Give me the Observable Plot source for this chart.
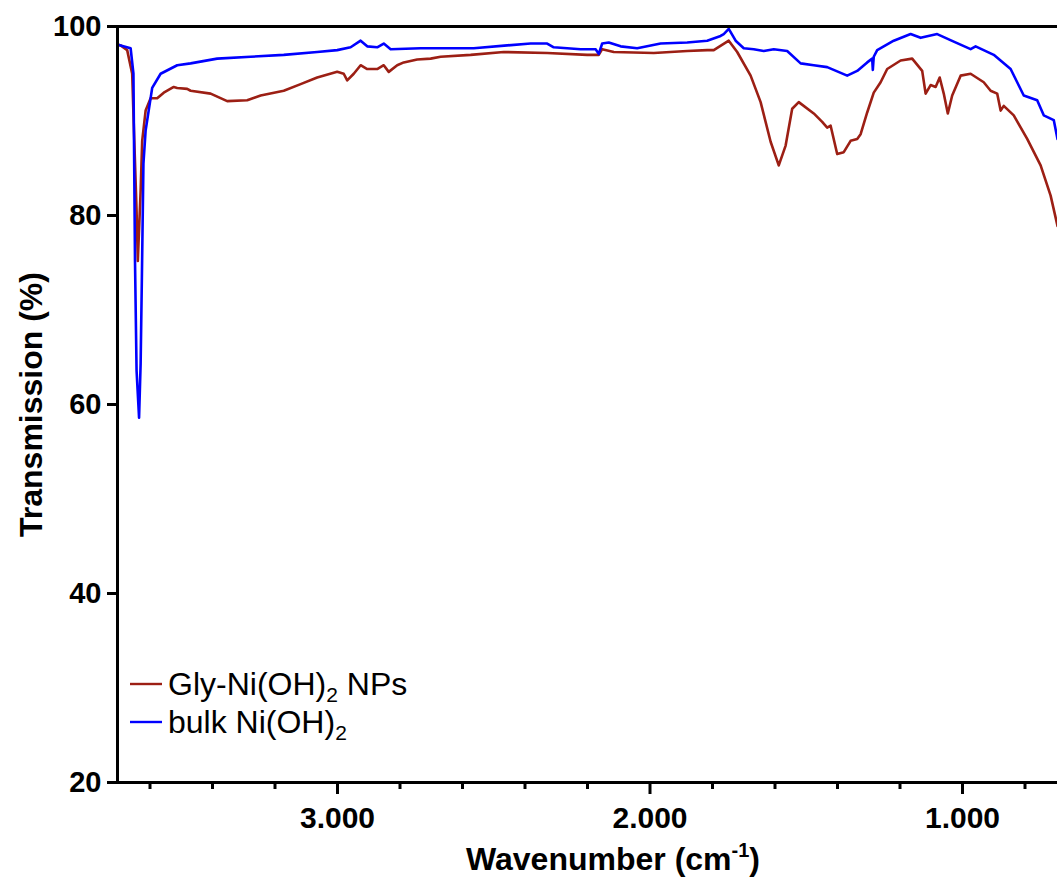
<!DOCTYPE html>
<html>
<head>
<meta charset="utf-8">
<script src="https://cdn.jsdelivr.net/npm/d3@7"></script>
<script src="https://cdn.jsdelivr.net/npm/@observablehq/plot@0.6"></script>
<style>
  html, body { margin: 0; padding: 0; background: #fff; }
  #chart { position: relative; width: 1057px; height: 884px; }
</style>
</head>
<body>
<div id="chart"></div>
<script>
// ---- data ----
const seriesNames = ["Gly-Ni(OH)2 NPs", "bulk Ni(OH)2"];
const seriesColors = ["#9c1f14", "#0000ff"];

// [wavenumber (cm-1), transmission (%)]
const glySpectrum = [
  [3704,98.1],[3694,98.0],[3673,97.5],[3657,95.0],[3652,89.7],[3643,80.5],[3639,75.2],[3630,82.6],
  [3625,87.9],[3614,91.1],[3598,92.4],[3577,92.4],[3556,93.0],[3524,93.6],[3513,93.5],[3481,93.4],
  [3470,93.2],[3406,92.9],[3353,92.1],[3289,92.2],[3246,92.7],[3172,93.2],[3118,93.9],[3065,94.6],
  [3001,95.2],[2980,95.0],[2969,94.3],[2948,95.0],[2926,95.9],[2905,95.5],[2873,95.5],[2852,95.9],
  [2836,95.2],[2809,95.9],[2788,96.2],[2745,96.5],[2702,96.6],[2670,96.8],[2574,97.0],[2468,97.3],
  [2329,97.2],[2201,97.0],[2164,97.0],[2153,97.6],[2116,97.3],[1988,97.2],[1881,97.4],[1817,97.5],
  [1796,97.5],[1748,98.5],[1721,97.3],[1678,94.8],[1646,92.0],[1614,87.8],[1588,85.3],[1566,87.4],
  [1545,91.3],[1524,92.0],[1476,90.8],[1449,89.9],[1433,89.3],[1422,89.5],[1401,86.5],[1380,86.7],
  [1358,87.9],[1337,88.1],[1326,88.6],[1305,90.9],[1284,93.0],[1262,94.1],[1241,95.5],[1198,96.4],
  [1161,96.6],[1129,95.3],[1118,92.9],[1102,93.8],[1086,93.6],[1073,94.6],[1060,92.9],[1047,90.8],
  [1033,92.7],[1006,94.8],[974,95.0],[932,94.1],[910,93.2],[889,92.9],[878,91.1],[868,91.6],
  [836,90.6],[793,88.1],[750,85.3],[718,82.1],[696,78.9]
];
const bulkSpectrum = [
  [3704,98.1],[3694,98.0],[3662,97.7],[3653,95.0],[3648,75.2],[3643,63.6],[3635,58.6],[3630,64.3],
  [3626,73.4],[3621,85.5],[3614,89.0],[3593,93.5],[3566,95.0],[3513,95.9],[3470,96.1],[3385,96.6],
  [3278,96.8],[3172,97.0],[3065,97.3],[3001,97.5],[2958,97.8],[2926,98.5],[2905,97.9],[2873,97.8],
  [2852,98.2],[2830,97.6],[2734,97.7],[2564,97.7],[2457,98.0],[2382,98.2],[2329,98.2],[2308,97.8],
  [2222,97.6],[2174,97.6],[2164,97.1],[2153,98.2],[2132,98.3],[2094,97.9],[2041,97.7],[1966,98.2],
  [1881,98.3],[1817,98.5],[1774,99.0],[1764,99.2],[1748,99.75],[1726,98.5],[1700,97.7],[1668,97.6],
  [1636,97.4],[1604,97.6],[1561,97.4],[1518,96.1],[1476,95.9],[1433,95.7],[1369,94.8],[1337,95.3],
  [1305,96.2],[1289,96.6],[1287,95.4],[1284,96.8],[1273,97.5],[1220,98.5],[1166,99.2],[1134,98.8],
  [1081,99.2],[1028,98.4],[974,97.6],[958,97.9],[900,97.0],[846,95.5],[804,92.7],[761,92.2],
  [740,90.6],[708,90.1],[696,88.1]
];

const xDomain = [3704, 696];
const yDomain = [20, 100];
const xMajorTicks = [3000, 2000, 1000];
const xMinorTicks = [3600, 3400, 3200, 2800, 2600, 2400, 2200, 1800, 1600, 1400, 1200, 800];
const yTicks = [20, 40, 60, 80, 100];

// ---- build ----
const rows = [
  ...glySpectrum.map(([wn, t]) => ({wn, t, s: seriesNames[0]})),
  ...bulkSpectrum.map(([wn, t]) => ({wn, t, s: seriesNames[1]}))
];
const dotFmt = d3.formatLocale({decimal: ",", thousands: ".", grouping: [3], currency: ["", ""]}).format(",");
const FONT = "'Liberation Sans', Arial, Helvetica, sans-serif";

const plot = Plot.plot({
  width: 1057,
  height: 884,
  marginLeft: 117,
  marginTop: 26,
  marginRight: 0,
  marginBottom: 102,
  style: {fontFamily: FONT, color: "#000", background: "#fff", overflow: "visible"},
  x: {domain: xDomain, label: null},
  y: {domain: yDomain, label: null},
  color: {domain: seriesNames, range: seriesColors},
  marks: [
    Plot.line(rows, {x: "wn", y: "t", z: "s", stroke: "s", strokeWidth: 2.6, clip: true}),
    Plot.axisX({ticks: xMinorTicks, tickSize: 7, tickFormat: () => "", strokeWidth: 3, anchor: "bottom"}),
    Plot.axisX({ticks: xMajorTicks, tickSize: 12, tickPadding: 12, tickFormat: dotFmt, strokeWidth: 3,
      anchor: "bottom", fontSize: 30, fontWeight: "bold", label: null}),
    Plot.axisY({ticks: yTicks, tickSize: 10, tickPadding: 6, strokeWidth: 3, anchor: "left",
      fontSize: 29, fontWeight: "bold", label: null}),
    Plot.frame({anchor: "left", strokeWidth: 3}),
    Plot.frame({anchor: "bottom", strokeWidth: 3}),
    Plot.frame({anchor: "top", strokeWidth: 3}),
    Plot.text(["Transmission (%)"], {frameAnchor: "left", dx: -86, rotate: -90, fontSize: 32,
      fontWeight: "bold", fill: "#000", textAnchor: "middle", lineAnchor: "middle"})
  ]
});

document.getElementById("chart").appendChild(plot);

// ---- titles with sub/superscripts and legend ----
const svg = d3.select(plot);
const x0 = 117, plotRight = 1057;

const xt = svg.append("text")
  .attr("x", (x0 + plotRight) / 2 + 26).attr("y", 870)
  .attr("text-anchor", "middle")
  .attr("font-family", FONT).attr("font-size", 32).attr("font-weight", "bold").attr("fill", "#000");
xt.append("tspan").text("Wavenumber (cm");
xt.append("tspan").attr("font-size", 20).attr("dy", -13).text("-1");
xt.append("tspan").attr("dy", 13).text(")");

const legend = svg.append("g").attr("font-family", FONT).attr("font-size", 32).attr("fill", "#000")
  .attr("text-anchor", "start");
seriesNames.forEach((name, i) => {
  const yy = 684 + i * 38;
  legend.append("line").attr("x1", 130).attr("x2", 162).attr("y1", yy).attr("y2", yy)
    .attr("stroke", seriesColors[i]).attr("stroke-width", 2.4);
  const t = legend.append("text").attr("x", 168).attr("y", yy + 11).attr("text-anchor", "start");
  const base = name.replace(/2( NPs)?$/, "");
  const tail = name.endsWith(" NPs") ? " NPs" : "";
  t.append("tspan").text(base);
  t.append("tspan").attr("font-size", 21).attr("dy", 7).text("2");
  if (tail) t.append("tspan").attr("dy", -7).text(tail);
});
</script>
</body>
</html>
